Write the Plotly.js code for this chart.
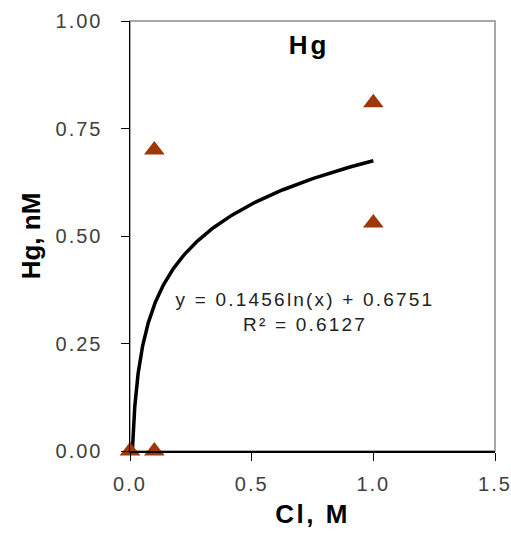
<!DOCTYPE html>
<html>
<head>
<meta charset="utf-8">
<script src="https://cdn.plot.ly/plotly-3.0.1.min.js"></script>
<style>
  html, body { margin: 0; padding: 0; background: #fff; }
  #chart { width: 511px; height: 538px; }
  /* the reference type is stretched sideways, so widen the glyph spacing */
  #chart .xtick text, #chart .ytick text { letter-spacing: 2px; }
  #chart .xtitle { letter-spacing: 2.5px; }
  #chart .gtitle { letter-spacing: 3px; }
  #chart .annotation-text { letter-spacing: 2.2px; }
</style>
</head>
<body>
<div id="chart"></div>
<script>
// measured points (Cl, M vs Hg, nM)
const CL = [0.0, 0.1, 0.1, 1.0, 1.0];
const HG = [0.0, 0.0, 0.70, 0.81, 0.53];

// log trendline as printed on the chart
const FIT_A = 0.1456;
const FIT_B = 0.6751;
const FIT_R2 = 0.6127;

const X_TICKS = [0, 0.5, 1.0, 1.5];
const X_LABELS = ['0.0', '0.5', '1.0', '1.5'];
const Y_TICKS = [0, 0.25, 0.5, 0.75, 1.0];
const Y_LABELS = ['0.00', '0.25', '0.50', '0.75', '1.00'];

const FONT = 'Arial, "Liberation Sans", sans-serif';

// trendline from where it crosses zero up to the last x
const x0 = Math.exp(-FIT_B / FIT_A);
const fitX = [];
const fitY = [];
for (let i = 0; i <= 200; i++) {
  const x = x0 * Math.pow(1.0 / x0, i / 200);
  fitX.push(x);
  fitY.push(FIT_A * Math.log(x) + FIT_B);
}

const traces = [
  {
    x: fitX, y: fitY, mode: 'lines', type: 'scatter',
    line: { color: '#000', width: 3.5 }, hoverinfo: 'skip', showlegend: false,
    cliponaxis: false,
  },
  {
    x: CL, y: HG, mode: 'markers', type: 'scatter',
    marker: { symbol: 'triangle-up', size: 18, color: '#9E3809' },
    showlegend: false, cliponaxis: false,
  },
];

const axisBase = {
  showgrid: false, zeroline: false, showline: true,
  linecolor: '#000', linewidth: 1.5,
  ticks: 'outside', ticklen: 8, tickcolor: '#000', tickwidth: 1,
  tickfont: { family: FONT, size: 20, color: '#404040' },
  fixedrange: true,
};

const layout = {
  width: 511, height: 538,
  margin: { l: 130, r: 16, t: 21, b: 87, pad: 0 },
  paper_bgcolor: '#fff', plot_bgcolor: '#fff',
  showlegend: false,
  title: {
    text: '<b>Hg</b>', font: { family: FONT, size: 26, color: '#000' },
    x: 309 / 511, y: 1 - 45 / 538, xanchor: 'center', yanchor: 'middle',
  },
  xaxis: {
    ...axisBase, range: [0, 1.5], tickvals: X_TICKS, ticktext: X_LABELS,
    ticklabelstandoff: 6,
    title: { text: '<b>Cl, M</b>', font: { family: FONT, size: 26, color: '#000' }, standoff: 11 },
  },
  yaxis: {
    ...axisBase, range: [0, 1], tickvals: Y_TICKS, ticktext: Y_LABELS,
    ticklabelstandoff: 14,
    title: { text: '<b>Hg, nM</b>', font: { family: FONT, size: 26, color: '#000' }, standoff: 15 },
  },
  shapes: [{
    type: 'rect', xref: 'paper', yref: 'paper', x0: 0, x1: 1, y0: 0, y1: 1,
    line: { color: '#8c8c8c', width: 1.5 }, layer: 'below',
  }],
  annotations: [{
    xref: 'paper', yref: 'paper', x: 0.479, y: 0.324,
    xanchor: 'center', yanchor: 'middle', showarrow: false, align: 'center',
    text: `y = ${FIT_A}ln(x) + ${FIT_B}<br>R² = ${FIT_R2}`,
    font: { family: FONT, size: 19, color: '#222' },
  }],
};

Plotly.newPlot('chart', traces, layout, { staticPlot: true, displayModeBar: false });
</script>
</body>
</html>
